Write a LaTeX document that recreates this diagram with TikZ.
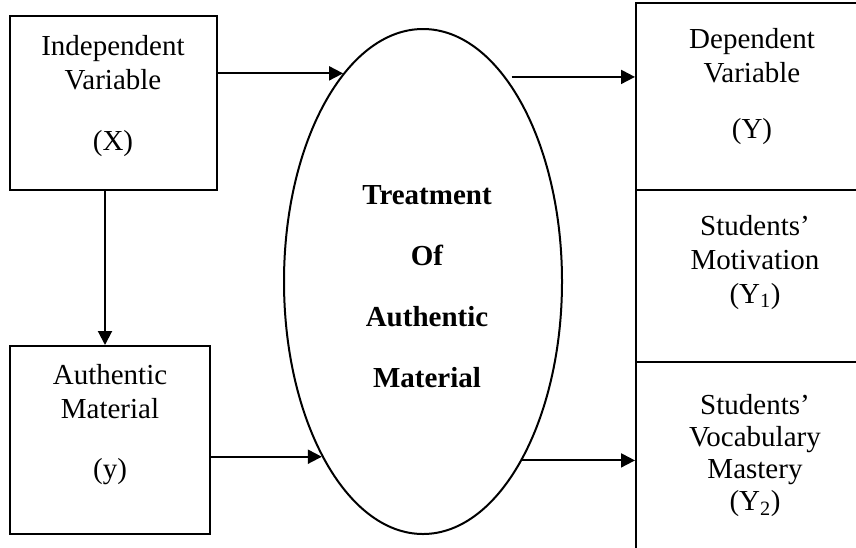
\documentclass[tikz,border=0pt]{standalone}
\usepackage{fontspec}
\setmainfont{Liberation Serif}
\usetikzlibrary{arrows.meta,shapes.geometric}
\begin{document}
\begin{tikzpicture}[x=1pt,y=-1pt,line width=2pt,
  box/.style={draw,rectangle,inner sep=0pt},
  lbl/.style={align=center,anchor=north,inner sep=0pt,font=\fontsize{29}{34}\selectfont},
  arr/.style={-{Triangle[length=14pt,width=14pt]}}]
\clip (0,0) rectangle (856,547);
% boxes
\node[box,minimum width=207pt,minimum height=174pt] (indep) at (113.5,103) {};
\node[box,minimum width=200pt,minimum height=188pt] (auth) at (110,440) {};
\node[draw,ellipse,inner sep=0pt,minimum width=278pt,minimum height=505pt] (ell) at (423,281.5) {};
\node[box,minimum width=236pt,minimum height=187pt] (dep) at (754,96.5) {};
\node[box,minimum width=236pt,minimum height=172pt] (mot) at (754,276) {};
\node[box,minimum width=236pt,minimum height=200pt] (voc) at (754,462) {};
% texts
\node[lbl] (tindep) at (113,34) {Independent\\Variable\\[27pt](X)};
\node[lbl] (tauth) at (110,363) {Authentic\\Material\\[26pt](y)};
\node[lbl,font=\fontsize{29}{34}\selectfont\bfseries] (tell) at (427,185) {Treatment\\[27pt]Of\\[27pt]Authentic\\[27pt]Material};
\node[lbl] (tdep) at (752,27) {Dependent\\Variable\\[22pt](Y)};
\node[lbl] (tmot) at (755,214) {Students’\\Motivation\\(Y\textsubscript{1})};
\node[lbl,font=\fontsize{29}{32}\selectfont] (tvoc) at (755,393) {Students’\\Vocabulary\\Mastery\\(Y\textsubscript{2})};
% connectors
\coordinate (vx) at (105,0);
\draw[arr] (indep.east |- ell.111.2) -- (ell.111.2);
\draw[arr] (auth.east |- ell.240.7) -- (ell.240.7);
\draw[arr] (indep.south -| vx) -- (auth.north -| vx);
\draw[arr,shorten <=6pt] (ell.68.8) -- (dep.west |- ell.68.8);
\draw[arr] (ell.299.3) -- (voc.west |- ell.299.3);
\end{tikzpicture}
\end{document}
